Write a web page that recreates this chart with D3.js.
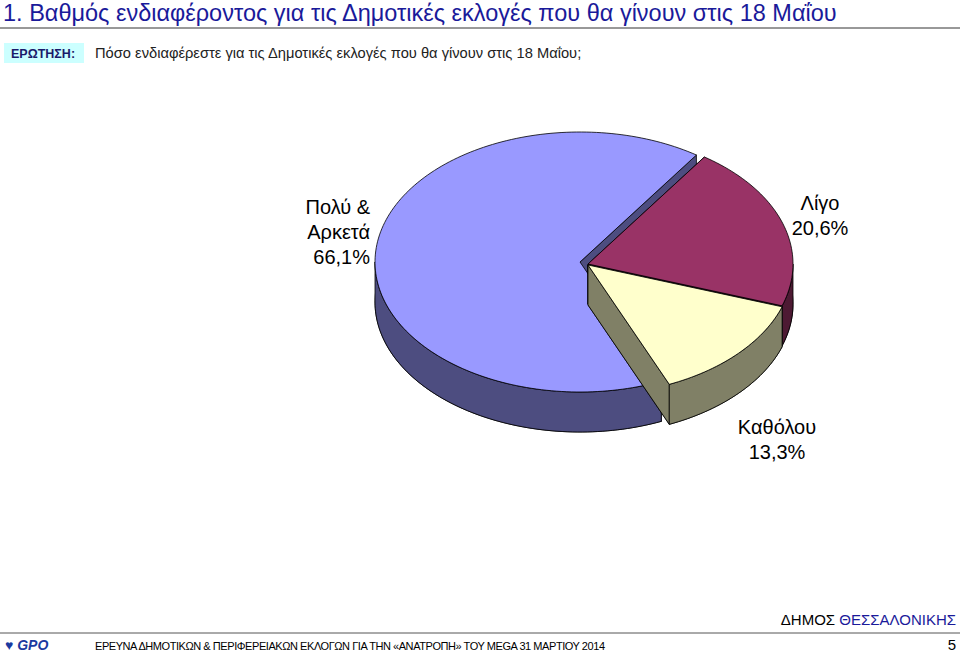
<!DOCTYPE html><html><head><meta charset="utf-8"><script src="https://d3js.org/d3.v7.min.js"></script>
<style>body{margin:0;background:#fff}text{font-family:Arial,"Liberation Sans",sans-serif}</style></head><body>
<svg id="c" width="960" height="653"></svg>
<script>
const categories=["Πολύ & Αρκετά","Λίγο","Καθόλου"];
const values=[66.1,20.6,13.3];
const valueLabels=["66,1%","20,6%","13,3%"];
const topColors=["#9999FF","#993366","#FFFFCC"];
const sideColors=["#4D4D80","#4D1A33","#808066"];
const svg=d3.select("#c");
svg.append("text").attr("x",3).attr("y",21).attr("font-size",23.5).attr("fill","#1a1a9a").text("1.   Βαθμός ενδιαφέροντος για τις Δημοτικές εκλογές που θα γίνουν στις 18 Μαΐου");
svg.append("line").attr("x1",0).attr("x2",960).attr("y1",28).attr("y2",28).attr("stroke","#333").attr("stroke-width",1);
svg.append("rect").attr("x",4).attr("y",43).attr("width",80).attr("height",20).attr("fill","#CCFFFF");
svg.append("text").attr("x",11).attr("y",58).attr("font-size",12.5).attr("font-weight","bold").attr("fill","#1a1a6a").text("ΕΡΩΤΗΣΗ:");
svg.append("text").attr("x",95).attr("y",58).attr("font-size",14.7).attr("fill","#222").text("Πόσο ενδιαφέρεστε για τις Δημοτικές εκλογές που θα γίνουν στις 18 Μαΐου;");
const rx=205,ry=130,depth=40,start=34.6*Math.PI/180;
const total=d3.sum(values);
const ang=d3.scaleLinear().domain([0,total]).range([start,start+2*Math.PI]);
const centers=[[580,262],[588,264],[588,265]];
const slices=values.map((v,i)=>({i}));
{let c=0;[1,2,0].forEach(k=>{slices[k].a0=ang(c);slices[k].a1=ang(c+values[k]);c+=values[k];});}
const pt=(c,a,dz)=>[c[0]+rx*Math.sin(a),c[1]-ry*Math.cos(a)+(dz||0)];
function arcPts(c,a0,a1,dz){const n=Math.max(2,Math.ceil((a1-a0)*40));return d3.range(n+1).map(k=>pt(c,a0+(a1-a0)*k/n,dz));}
const line=d3.line();
const g=svg.append("g");
[0,1,2].forEach(k=>{
  const s=slices[k],c=centers[k];
  const cb=[c[0],c[1]+depth];
  g.append("path").attr("d",line([cb,...arcPts(c,s.a0,s.a1,depth)])+"Z").attr("fill",sideColors[k]).attr("stroke","#000").attr("stroke-width",0.8);
  [s.a0,s.a1].forEach(a=>{const p=pt(c,a);g.append("path").attr("d",line([c,p,[p[0],p[1]+depth],cb])+"Z").attr("fill",sideColors[k]).attr("stroke","#000").attr("stroke-width",0.8);});
  for(let off=-2;off<=2;off++){const f0=Math.PI/2+off*2*Math.PI,f1=3*Math.PI/2+off*2*Math.PI;
    const b0=Math.max(s.a0,f0),b1=Math.min(s.a1,f1);
    if(b1>b0){const top=arcPts(c,b0,b1,0),bot=arcPts(c,b0,b1,depth).reverse();
      g.append("path").attr("d",line([...top,...bot])+"Z").attr("fill",sideColors[k]).attr("stroke","#000").attr("stroke-width",0.8);}}
  g.append("path").attr("d",line([c,...arcPts(c,s.a0,s.a1,0)])+"Z").attr("fill",topColors[k]).attr("stroke","#000").attr("stroke-width",0.8);
});
const lab=[{lines:["Πολύ &","Αρκετά",valueLabels[0]],x:370,y:214,anchor:"end"},
{lines:["Λίγο",valueLabels[1]],x:820,y:210,anchor:"middle"},
{lines:["Καθόλου",valueLabels[2]],x:777,y:434,anchor:"middle"}];
lab.forEach(l=>{const t=svg.append("text").attr("font-size",20).attr("text-anchor",l.anchor).attr("fill","#000");
  l.lines.forEach((s,j)=>t.append("tspan").attr("x",l.x).attr("y",l.y+j*25).text(s));});
const ft=svg.append("text").attr("x",956).attr("y",625).attr("text-anchor","end").attr("font-size",15).attr("fill","#000");
ft.append("tspan").text("ΔΗΜΟΣ ");ft.append("tspan").attr("fill","#1a1a9a").text("ΘΕΣΣΑΛΟΝΙΚΗΣ");
svg.append("line").attr("x1",0).attr("x2",960).attr("y1",633).attr("y2",633).attr("stroke","#555");
svg.append("text").attr("x",5).attr("y",650).attr("font-size",14).attr("font-weight","bold").attr("fill","#1a3aa0").attr("font-style","italic").text("♥ GPO");
svg.append("text").attr("x",95).attr("y",650).attr("font-size",11).attr("fill","#000").attr("textLength",510).text("ΕΡΕΥΝΑ ΔΗΜΟΤΙΚΩΝ & ΠΕΡΙΦΕΡΕΙΑΚΩΝ ΕΚΛΟΓΩΝ ΓΙΑ ΤΗΝ «ΑΝΑΤΡΟΠΗ» ΤΟΥ MEGA  31 ΜΑΡΤΙΟΥ 2014");
svg.append("text").attr("x",956).attr("y",650).attr("text-anchor","end").attr("font-size",15).text("5");
</script></body></html>
